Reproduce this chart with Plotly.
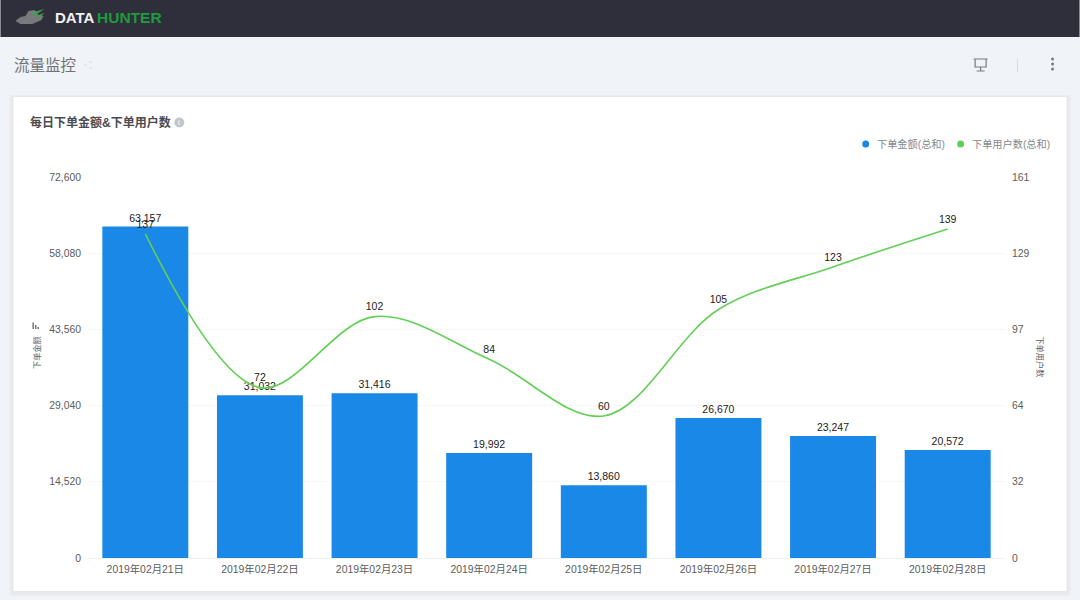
import plotly.graph_objects as go

categories = ["2019年02月21日", "2019年02月22日", "2019年02月23日", "2019年02月24日",
              "2019年02月25日", "2019年02月26日", "2019年02月27日", "2019年02月28日"]
amount = [63157, 31032, 31416, 19992, 13860, 26670, 23247, 20572]
users = [137, 72, 102, 84, 60, 105, 123, 139]
left_ticks = [0, 14520, 29040, 43560, 58080, 72600]
right_ticks = [0, 32.2, 64.4, 96.6, 128.8, 161]
right_labels = ["0", "32", "64", "97", "129", "161"]

W, H = 1080, 600
L, R, T, B = 87.6, 1005.4, 177, 558
FONT = "Liberation Sans, Noto Sans CJK SC, sans-serif"
BLUE = "#1a88e6"
GREEN = "#62cf56"
TICK = "#5c5c5c"


def px(x):
    return (x - L) / (R - L)


def py(y):
    return (B - y) / (B - T)


def rect(x0, y0, x1, y1, color, line=None):
    return dict(type="rect", xref="paper", yref="paper", layer="below",
                x0=px(x0), x1=px(x1), y0=py(y0), y1=py(y1), fillcolor=color,
                line=dict(width=0 if line is None else 1, color=line or color))


def dot(cx, cy, r, color):
    return dict(type="circle", xref="paper", yref="paper", layer="above",
                x0=px(cx - r), x1=px(cx + r), y0=py(cy + r), y1=py(cy - r),
                fillcolor=color, line=dict(width=0))


def label(x, y, text, size, color, anchor="left", angle=0, bold=False):
    return dict(xref="paper", yref="paper", x=px(x), y=py(y), text=f"<b>{text}</b>" if bold else text,
                showarrow=False, xanchor=anchor, yanchor="middle", textangle=angle, borderpad=0,
                font=dict(family=FONT, size=size, color=color))


def poly(points, color):
    d = "M " + " L ".join(f"{px(x):.5f},{py(y):.5f}" for x, y in points) + " Z"
    return dict(type="path", xref="paper", yref="paper", path=d, fillcolor=color, line=dict(width=0), layer="above")


fig = go.Figure()
fig.add_trace(go.Bar(x=categories, y=amount, name="下单金额(总和)", marker=dict(color=BLUE, line=dict(width=0)),
                     width=0.75, text=[f"{v:,}" for v in amount], textposition="outside", cliponaxis=False,
                     textfont=dict(family=FONT, size=10.5, color="#222222"), showlegend=False))
fig.add_trace(go.Scatter(x=categories, y=users, yaxis="y2", mode="lines+markers+text", name="下单用户数(总和)",
                         line=dict(color=GREEN, width=1.6, shape="spline", smoothing=1.0),
                         marker=dict(size=4, opacity=0, color=GREEN),
                         text=[str(v) for v in users], textposition="top center", cliponaxis=False,
                         textfont=dict(family=FONT, size=10.5, color="#222222"), showlegend=False))

shapes = [
    rect(0, 0, W, 37, "#2e2f3a"),
    rect(9, 95, 1071, 596, "#eaecf0"),
    rect(11, 96, 1069, 594, "#e6e8ec"),
    rect(13, 97, 1067, 591, "#ffffff"),
    rect(1017.5, 59, 1018.5, 72, "#d5d8dc"),
    poly([(15, 21), (20, 17), (25, 16), (28, 11), (34, 10), (38, 15), (43, 16), (41, 20), (32, 24), (20, 24)], "#77797c"),
    poly([(30, 13), (44, 9), (38, 13), (34, 15)], "#3fa34d"),
    poly([(35, 16), (44, 13), (40, 17)], "#3fa34d"),
    dot(179, 122.5, 5, "#c4c6c9"),
    dict(type="path", xref="paper", yref="paper", layer="above",
         path=f"M {px(974):.5f},{py(59):.5f} L {px(988):.5f},{py(59):.5f} M {px(975.5):.5f},{py(59):.5f} "
              f"L {px(975.5):.5f},{py(67):.5f} L {px(986.5):.5f},{py(67):.5f} L {px(986.5):.5f},{py(59):.5f} "
              f"M {px(981):.5f},{py(67):.5f} L {px(981):.5f},{py(71):.5f} M {px(977):.5f},{py(71):.5f} L {px(985):.5f},{py(71):.5f}",
         line=dict(color="#777a7e", width=1.2)),
    dot(866, 144, 3.5, BLUE),
    dot(961, 144, 3.5, GREEN),
    rect(32, 322.5, 33.5, 329, "#777777"),
    rect(34.5, 325, 36, 329, "#777777"),
    rect(37, 327, 38.5, 329, "#777777"),
]
for cy in (59, 64, 69):
    shapes.append(dot(1053, cy, 1.5, "#777a7e"))
for cx, cy in ((85, 65), (90, 62), (90, 68)):
    shapes.append(dot(cx, cy, 1.3, "#dfe2e6"))

annotations = [
    label(53.5, 17, "DATA", 15, "#f1f2f4", bold=True),
    label(96, 17, "HUNTER", 15.5, "#1f9a3c", bold=True),
    label(13, 65, "流量监控", 15.5, "#6f7276"),
    label(29, 122.5, "每日下单金额&下单用户数", 12, "#4a4c50", bold=True),
    label(179, 122.5, "i", 8, "#ffffff", anchor="center"),
    label(876.5, 144, "下单金额(总和)", 10.2, "#85888c"),
    label(971.5, 144, "下单用户数(总和)", 10.2, "#85888c"),
    label(36, 352.5, "下单金额", 8.2, "#666666", anchor="center", angle=-90),
    label(1040, 357, "下单用户数", 8.2, "#666666", anchor="center", angle=90),
]

fig.update_layout(
    width=W, height=H, autosize=False,
    margin=dict(l=L, r=W - R, t=T, b=H - B),
    paper_bgcolor="#f0f3f7", plot_bgcolor="rgba(0,0,0,0)",
    bargap=0.25, shapes=shapes, annotations=annotations,
    font=dict(family=FONT), showlegend=False,
    xaxis=dict(type="category", categoryorder="array", categoryarray=categories, showgrid=False, zeroline=False,
               showline=True, linecolor="#f0f0f0", ticks="", ticklabelstandoff=2,
               tickfont=dict(family=FONT, size=10.4, color=TICK)),
    yaxis=dict(range=[0, 72600], tickvals=left_ticks, tickformat=",d", showgrid=True, gridcolor="#f7f7f7", zeroline=False,
               tickfont=dict(family=FONT, size=10.4, color=TICK), ticks="", ticklabelstandoff=6),
    yaxis2=dict(range=[0, 161], overlaying="y", side="right", tickvals=right_ticks, ticktext=right_labels,
                showgrid=False, zeroline=False, tickfont=dict(family=FONT, size=10.4, color=TICK), ticks="",
                ticklabelstandoff=6),
)

fig.write_html("out.html", config={"displayModeBar": False},
               post_script="document.body.style.margin='0';document.body.style.overflow='hidden';")
